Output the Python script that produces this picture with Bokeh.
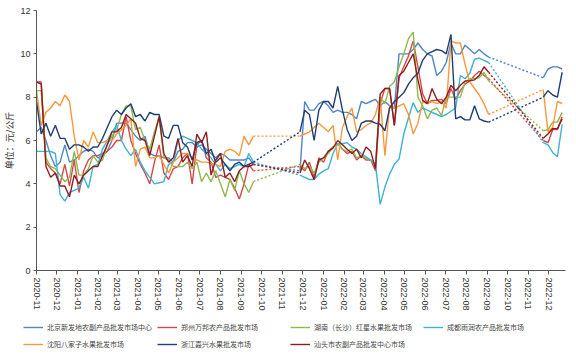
import pandas as pd
from bokeh.plotting import figure
from bokeh.layouts import column
from bokeh.models import (Legend, LegendItem, DatetimeTickFormatter, MonthsTicker,
                          SingleIntervalTicker, Range1d)
from bokeh.embed import file_html
from bokeh.resources import INLINE

# ---------------- data ----------------
markets = [
    "北京新发地农副产品批发市场中心",
    "郑州万邦农产品批发市场",
    "湖南（长沙）红星水果批发市场",
    "成都雨润农产品批发市场",
    "沈阳八家子水果批发市场",
    "浙江嘉兴水果批发市场",
    "汕头市农副产品批发中心市场",
]
colors = ["#4e86c6", "#d5474b", "#8fb84d", "#3fb1d4", "#f7993b", "#1f3e72", "#8c1d1d"]

dates_p1 = pd.date_range("2020-11-01", periods=47, freq="7D")
dates_p2 = pd.date_range("2021-11-27", periods=41, freq="7D")
dates_p3 = pd.date_range("2022-11-23", periods=5, freq="7D")

beijing_p1 = [6.4, 6.6, 6.0, 5.3, 4.8, 5.0, 5.8, 5.0, 5.1, 5.3, 5.5, 5.6, 5.5, 5.2, 5.3, 5.5,
              6.0, 6.8, 6.8, 6.8, 6.5, 6.2, 6.0, 6.2, 5.4, 5.3, 5.3, 5.2, 5.2, 5.0, 5.5, 5.6,
              5.9, 5.9, 5.7, 5.8, 5.6, 5.4, 5.2, 5.4, 5.3, 5.1, 5.1, 5.1, 5.1, 5.2, 4.9]
beijing_p2 = [4.6, 7.8, 7.4, 7.4, 7.7, 7.8, 7.6, 7.3, 7.4, 7.3, 7.3, 7.2, 7.0, 7.8, 7.7, 7.8,
              7.9, 7.6, 7.8, 7.6, 7.5, 10.0, 10.0, 10.0, 10.2, 10.5, 10.2, 10.0, 9.9, 9.0, 9.2,
              9.6, 10.5, 10.0, 10.0, 10.4, 10.2, 10.0, 10.2, 10.0, 9.85]
beijing_p3 = [8.9, 9.3, 9.4, 9.4, 9.3]

zhengzhou_p1 = [8.7, 8.7, 5.0, 4.7, 4.5, 4.0, 4.9, 3.9, 5.1, 3.6, 4.6, 5.1, 5.3, 5.3, 5.4, 5.5,
                5.7, 6.0, 6.0, 7.1, 6.0, 5.4, 4.9, 4.5, 4.0, 5.0, 5.8, 4.5, 4.2, 4.7, 4.8, 5.2,
                5.4, 4.0, 5.8, 6.0, 5.2, 5.0, 4.3, 4.4, 4.3, 4.2, 3.8, 3.3, 4.0, 4.9, 4.6]
zhengzhou_p2 = [4.8, 4.6, 5.0, 4.3, 5.2, 5.0, 5.5, 5.7, 5.85, 5.6, 5.4, 5.5, 5.1, 5.3, 5.1, 5.1,
                4.6, 7.7, 8.4, 8.4, 6.7, 8.9, 9.4, 9.9, 10.6, 9.4, 8.15, 7.7, 7.85, 7.85, 7.9,
                7.7, 8.4, 7.9, 8.3, 8.6, 8.75, 9.0, 9.2, 9.0, 8.85]
zhengzhou_p3 = [6.0, 5.9, 6.5, 6.5, 7.1]

hunan_p1 = [8.3, 8.3, 5.2, 4.8, 4.7, 4.4, 4.1, 4.3, 5.5, 4.4, 4.4, 4.7, 5.3, 5.0, 5.1, 5.8,
            6.2, 6.5, 7.2, 7.6, 7.6, 6.5, 6.6, 6.0, 5.6, 6.4, 7.1, 5.2, 5.1, 4.8, 4.8, 4.8,
            5.0, 4.7, 5.0, 4.1, 4.5, 4.1, 4.6, 4.0, 3.4, 4.2, 3.7, 4.6, 4.0, 3.6, 4.1]
hunan_p2 = [4.9, 4.7, 4.8, 4.5, 5.0, 5.2, 5.4, 5.7, 5.85, 5.6, 5.5, 5.6, 5.2, 5.3, 5.2, 5.1,
            4.85, 8.0, 7.7, 8.5, 8.7, 9.4, 10.0, 10.7, 11.0, 8.0, 7.6, 7.0, 7.4, 7.5, 7.15,
            8.0, 8.0, 8.0, 8.0, 8.7, 8.85, 8.85, 8.9, 9.15, 8.75]
hunan_p3 = [6.45, 6.5, 6.85, 6.85, 7.3]

chengdu_p1 = [5.5, 5.5, 5.5, 5.5, 5.4, 3.5, 3.2, 3.6, 3.7, 3.8, 4.3, 3.8, 4.8, 4.9, 5.6, 6.0,
              6.4, 6.7, 6.0, 5.6, 5.3, 5.6, 5.0, 4.6, 4.3, 4.0, 4.05, 4.1, 4.9, 5.0, 6.0, 6.2,
              6.1, 6.0, 5.9, 5.6, 5.4, 5.2, 4.9, 4.6, 4.9, 4.7, 4.8, 4.9, 4.8, 5.4, 5.0]
chengdu_p2 = [4.4, 4.3, 4.2, 4.2, 4.45, 4.6, 4.7, 5.4, 5.85, 5.85, 5.9, 5.7, 5.6, 5.4, 5.25, 5.1,
              4.9, 3.05, 3.85, 4.45, 4.9, 5.15, 6.3, 7.05, 7.75, 7.3, 7.5, 7.4, 7.3, 7.2, 7.1,
              7.2, 7.35, 7.5, 9.0, 8.85, 9.1, 9.75, 9.8, 9.7, 9.6]
chengdu_p3 = [5.9, 5.8, 5.45, 5.25, 6.75]

shenyang_p1 = [8.3, 6.7, 7.3, 7.5, 7.8, 7.6, 8.1, 7.8, 6.2, 5.1, 6.0, 5.7, 6.4, 5.9, 5.9, 6.0,
               6.0, 6.3, 6.5, 6.7, 7.0, 4.8, 5.6, 5.7, 5.2, 5.2, 5.3, 4.9, 4.5, 5.0, 5.2, 5.4,
               5.4, 5.2, 5.1, 5.0, 5.0, 4.95, 4.9, 4.8, 5.5, 5.6, 5.5, 5.3, 6.2, 5.8, 6.2]
shenyang_p2 = [6.2, 6.3, 6.4, 6.6, 6.8, 6.6, 6.4, 6.7, 5.1, 6.6, 7.1, 7.5, 6.4, 6.5, 6.7, 6.8,
               7.2, 8.0, 5.3, 7.6, 7.5, 7.6, 7.7, 7.2, 6.3, 6.8, 7.8, 7.7, 7.8, 7.7, 7.8, 7.5,
               10.6, 10.5, 10.5, 9.5, 8.7, 8.4, 8.1, 7.7, 7.2]
shenyang_p3 = [8.35, 6.4, 6.6, 7.8, 7.7]

zhejiang_p1 = [7.8, 6.3, 6.8, 6.2, 6.7, 6.1, 6.1, 5.6, 5.8, 5.8, 5.7, 5.5, 5.7, 5.7, 6.1, 6.6,
               7.1, 7.4, 7.2, 7.5, 7.7, 7.1, 7.2, 6.9, 7.3, 7.2, 7.2, 6.2, 6.1, 6.7, 6.7, 5.9,
               5.7, 5.1, 5.9, 6.0, 5.4, 5.6, 5.0, 5.2, 4.9, 4.6, 4.9, 5.0, 4.8, 4.9, 5.0]
zhejiang_p2 = [6.4, 7.4, 7.2, 6.0, 7.4, 7.8, 7.8, 7.5, 8.5, 7.4, 6.5, 6.0, 6.2, 6.8, 6.9, 6.9,
               6.8, 6.75, 6.45, 7.5, 7.8, 8.0, 8.2, 8.6, 8.9, 9.1, 9.7, 10.0, 10.1, 10.2, 10.15,
               10.0, 10.9, 7.0, 7.1, 6.95, 6.95, 7.6, 7.0, 6.9, 6.85]
zhejiang_p3 = [8.0, 8.3, 8.1, 8.0, 9.15]

shantou_p1 = [8.7, 8.6, 4.8, 4.3, 4.5, 3.9, 3.9, 3.4, 4.4, 4.0, 4.4, 4.6, 4.8, 4.8, 5.3, 5.8,
              6.4, 6.4, 6.6, 7.2, 7.0, 6.8, 6.1, 6.0, 5.3, 6.2, 7.1, 5.4, 5.0, 5.2, 6.1, 5.0,
              5.3, 4.8, 6.3, 5.9, 6.4, 4.4, 5.1, 5.4, 4.3, 4.5, 4.1, 4.6, 4.8, 4.8, 4.9]
shantou_p2 = [4.5, 5.1, 4.7, 4.2, 5.1, 5.2, 5.5, 5.65, 6.0, 5.8, 5.6, 5.4, 5.6, 5.2, 5.7, 5.5,
              4.7, 8.15, 8.4, 8.4, 6.7, 9.0, 9.2, 9.6, 10.0, 8.8, 7.85, 7.7, 8.4, 7.9, 7.7,
              8.0, 8.55, 8.3, 8.55, 8.75, 8.75, 8.8, 9.0, 9.4, 9.15]
shantou_p3 = [6.1, 6.3, 6.55, 6.55, 7.0]

series = [
    (beijing_p1, beijing_p2, beijing_p3),
    (zhengzhou_p1, zhengzhou_p2, zhengzhou_p3),
    (hunan_p1, hunan_p2, hunan_p3),
    (chengdu_p1, chengdu_p2, chengdu_p3),
    (shenyang_p1, shenyang_p2, shenyang_p3),
    (zhejiang_p1, zhejiang_p2, zhejiang_p3),
    (shantou_p1, shantou_p2, shantou_p3),
]

y_ticks_interval = 2
y_label = "单位：元/公斤"

# ---------------- main figure ----------------
CJK = "Noto Sans CJK SC"
LAT = "Liberation Sans"
LW = 1.4

p = figure(width=576, height=316, x_axis_type="datetime",
           x_range=Range1d(pd.Timestamp("2020-11-01"), pd.Timestamp("2022-12-26")),
           y_range=Range1d(0, 12),
           output_backend="svg", toolbar_location=None,
           min_border_left=30, min_border_right=11, min_border_top=10, min_border_bottom=46)
p.frame_align = False
p.xgrid.grid_line_color = None
p.ygrid.grid_line_color = None
p.outline_line_color = None

dates = [dates_p1, dates_p2, dates_p3]
for name, col, segs in zip(markets, colors, series):
    for d, v in zip(dates, segs):
        p.line(list(d), v, line_color=col, line_width=LW)
    for k in range(2):
        p.line([dates[k][-1], dates[k + 1][0]], [segs[k][-1], segs[k + 1][0]],
               line_color=col, line_width=LW, line_dash="2 2")

xa = p.xaxis[0]
xa.ticker = MonthsTicker(months=list(range(12)))
xa.formatter = DatetimeTickFormatter(months="%Y-%m", days="%Y-%m", years="%Y-%m")
xa.major_label_orientation = "vertical"
xa.major_label_text_font = LAT
xa.major_label_text_font_size = "9px"
xa.major_label_text_color = "#333333"
xa.axis_line_color = "#555555"
xa.major_tick_line_color = "#555555"
xa.major_tick_out = 4
xa.major_tick_in = 0
xa.minor_tick_line_color = None
xa.major_label_standoff = 3

ya = p.yaxis[0]
ya.ticker = SingleIntervalTicker(interval=y_ticks_interval)
ya.major_label_text_font = LAT
ya.major_label_text_font_size = "9px"
ya.major_label_text_color = "#333333"
ya.axis_line_color = "#555555"
ya.major_tick_line_color = "#555555"
ya.major_tick_out = 3
ya.major_tick_in = 0
ya.minor_tick_line_color = None
ya.major_label_standoff = 2
ya.axis_label = y_label
ya.axis_label_text_font = CJK
ya.axis_label_text_font_size = "9px"
ya.axis_label_text_font_style = "normal"
ya.axis_label_text_color = "#333333"
ya.axis_label_standoff = 1

# ---------------- legend strip ----------------
lg = figure(width=576, height=42, output_backend="svg", toolbar_location=None,
            x_axis_location=None, y_axis_location=None,
            x_range=Range1d(0, 1), y_range=Range1d(0, 1),
            min_border_left=0, min_border_right=0, min_border_top=0, min_border_bottom=0)
lg.frame_align = False
lg.xgrid.grid_line_color = None
lg.ygrid.grid_line_color = None
lg.outline_line_color = None

nan = float("nan")
items = []
for name, col in zip(markets, colors):
    r = lg.line([nan, nan], [nan, nan], line_color=col, line_width=LW)
    items.append(LegendItem(label=name, renderers=[r]))

legend = Legend(items=items, location=(23, 8), orientation="horizontal", ncols=4,
                glyph_width=20, glyph_height=12, label_height=12, label_width=104,
                label_standoff=4, spacing=5, padding=0, margin=0,
                border_line_color=None, background_fill_alpha=0,
                label_text_font=CJK, label_text_font_size="7px", label_text_color="#444444")
lg.add_layout(legend)

layout = column(p, lg, spacing=0)
open("out.html", "w").write(file_html(layout, INLINE))
